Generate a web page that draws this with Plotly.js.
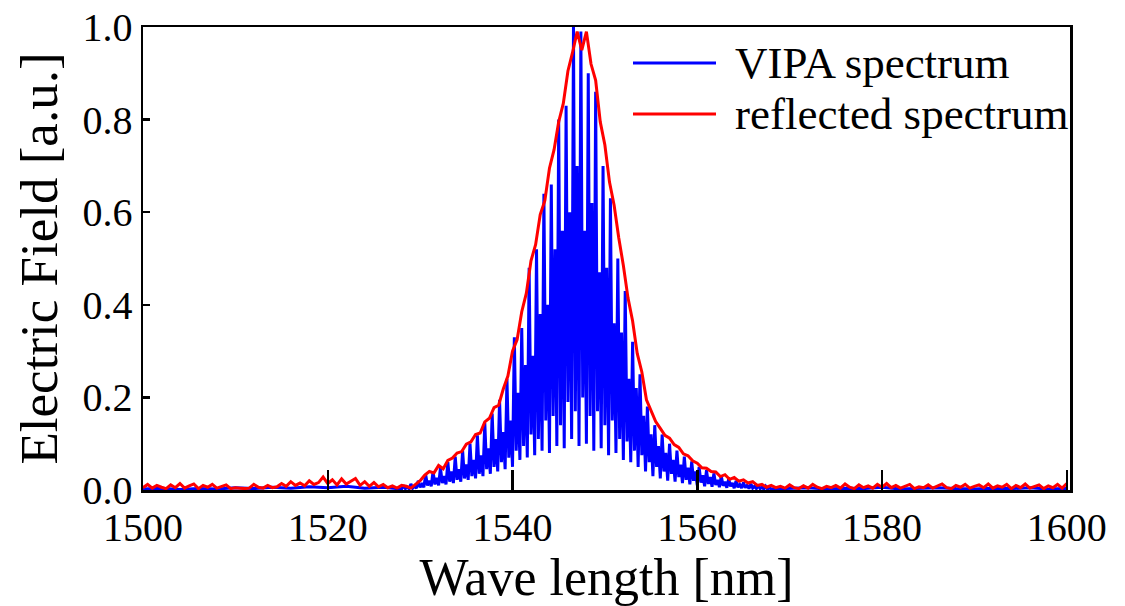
<!DOCTYPE html>
<html>
<head>
<meta charset="utf-8">
<script src="https://cdn.plot.ly/plotly-3.0.1.min.js"></script>
<style>html,body{margin:0;padding:0;background:#fff;}#chart{width:1125px;height:606px;}</style>
</head>
<body>
<div id="chart"></div>
<script>
// ---------------- DATA ----------------
const xTickVals = [1500, 1520, 1540, 1560, 1580, 1600];
const xTickText = ["1500", "1520", "1540", "1560", "1580", "1600"];
const yTickVals = [0.0, 0.2, 0.4, 0.6, 0.8, 1.0];
const yTickText = ["0.0", "0.2", "0.4", "0.6", "0.8", "1.0"];
const seriesNames = ["VIPA spectrum", "reflected spectrum"];

// reflected spectrum: sampled every 0.5 nm from 1500 nm
const redStart = 1500, redStep = 0.5;
const redY = [
  0.005,0.012,0.004,0.010,0.006,0.003,0.011,0.005,0.014,0.004,
  0.009,0.013,0.003,0.010,0.006,0.012,0.004,0.008,0.011,0.003,
  0.005,0.004,0.003,0.004,0.012,0.006,0.004,0.010,0.005,0.007,
  0.014,0.008,0.018,0.010,0.015,0.009,0.020,0.012,0.016,0.028,
  0.014,0.022,0.011,0.024,0.013,0.019,0.025,0.010,0.018,0.008,
  0.016,0.007,0.012,0.005,0.009,0.004,0.010,0.008,0.004,0.012,
  0.020,0.032,0.040,0.037,0.053,0.046,0.064,0.069,0.080,0.083,
  0.099,0.104,0.120,0.123,0.147,0.155,0.178,0.183,0.218,0.246,
  0.300,0.325,0.385,0.425,0.495,0.530,0.595,0.625,0.695,0.735,
  0.795,0.835,0.905,0.945,0.990,0.950,0.990,0.920,0.885,0.795,
  0.745,0.665,0.615,0.545,0.485,0.415,0.365,0.295,0.255,0.195,
  0.172,0.148,0.133,0.118,0.112,0.098,0.092,0.078,0.074,0.063,
  0.058,0.048,0.047,0.040,0.039,0.029,0.033,0.023,0.027,0.019,
  0.022,0.015,0.018,0.010,0.012,0.006,0.010,0.005,0.008,0.004,
  0.011,0.005,0.003,0.009,0.004,0.012,0.006,0.003,0.008,0.005,
  0.010,0.004,0.013,0.006,0.003,0.011,0.005,0.009,0.004,0.012,
  0.006,0.014,0.005,0.010,0.004,0.008,0.012,0.003,0.007,0.005,
  0.011,0.004,0.009,0.013,0.005,0.003,0.010,0.006,0.012,0.004,
  0.008,0.011,0.005,0.013,0.004,0.009,0.006,0.012,0.003,0.010,
  0.005,0.013,0.004,0.008,0.011,0.003,0.009,0.005,0.012,0.004,
  0.014
];

// VIPA spectrum, left baseline
const blueLeftX = [1500,1502,1504,1506,1508,1510,1512,1514,1516,1518,1520,1522,1524,1526];
const blueLeftY = [0.002,0.004,0.001,0.003,0.002,0.005,0.003,0.006,0.004,0.007,0.005,0.008,0.004,0.006];
// VIPA fringes: sampled every 0.2 nm from 1528.0 nm (trough, peak, trough, peak ...)
const fringeStart = 1528.0, fringeStep = 0.2;
const fringeY = [
  0.002,0.010,0.003,0.006,  0.003,0.013,0.004,0.008,  0.004,0.020,0.006,0.012,  0.006,0.033,0.010,0.020,
  0.008,0.040,0.012,0.026,  0.010,0.048,0.015,0.030,  0.012,0.060,0.018,0.040,  0.015,0.072,0.022,0.045,
  0.018,0.085,0.025,0.055,  0.022,0.100,0.030,0.065,  0.025,0.118,0.035,0.075,  0.030,0.145,0.045,0.090,
  0.035,0.165,0.050,0.110,  0.040,0.195,0.060,0.125,  0.045,0.240,0.070,0.150,  0.050,0.330,0.085,0.210,
  0.065,0.350,0.095,0.270,  0.070,0.480,0.120,0.290,  0.075,0.520,0.110,0.380,  0.085,0.640,0.150,0.400,
  0.080,0.660,0.160,0.520,  0.095,0.800,0.140,0.560,  0.090,0.830,0.190,0.600,  0.110,1.000,0.170,0.700,
  0.095,0.990,0.200,0.560,  0.100,0.900,0.160,0.620,  0.085,0.860,0.170,0.470,  0.090,0.700,0.140,0.480,
  0.075,0.630,0.150,0.360,  0.080,0.500,0.110,0.340,  0.065,0.430,0.105,0.240,  0.060,0.320,0.085,0.220,
  0.050,0.250,0.075,0.160,  0.040,0.180,0.060,0.120,  0.030,0.140,0.050,0.095,  0.025,0.120,0.040,0.080,
  0.020,0.100,0.035,0.065,  0.018,0.085,0.028,0.055,  0.015,0.072,0.022,0.048,  0.012,0.062,0.020,0.040,
  0.010,0.050,0.016,0.032,  0.008,0.043,0.013,0.028,  0.007,0.036,0.011,0.022,  0.006,0.030,0.009,0.018,
  0.005,0.024,0.008,0.015,  0.004,0.020,0.006,0.012,  0.004,0.016,0.005,0.010,  0.003,0.013,0.004,0.008,
  0.003,0.010,0.003,0.006,  0.002,0.008,0.002,0.005,
  0.002
];
// VIPA spectrum, right baseline
const blueRightX = [1570,1572,1574,1576,1578,1580,1582,1584,1586,1588,1590,1592,1594,1596,1598,1600];
const blueRightY = [0.003,0.005,0.002,0.004,0.003,0.006,0.002,0.004,0.005,0.003,0.002,0.004,0.003,0.005,0.002,0.003];

// ---------------- BUILD ----------------
const redX = redY.map((_, i) => redStart + redStep * i);
const fringeX = fringeY.map((_, i) => +(fringeStart + fringeStep * i).toFixed(3));
const blueX = blueLeftX.concat(fringeX, blueRightX);
const blueY = blueLeftY.concat(fringeY, blueRightY);
const FONT = "Liberation Serif, Times New Roman, serif";

const traces = [
  {x: blueX, y: blueY, type: "scatter", mode: "lines", name: seriesNames[0],
   line: {color: "#0000ff", width: 3}, showlegend: false},
  {x: redX, y: redY, type: "scatter", mode: "lines", name: seriesNames[1],
   line: {color: "#ff0000", width: 3}, showlegend: false}
];

const W = 927, H = 463, L = 143, T = 27;
const px = v => (v - L) / W;
const py = v => (T + H - v) / H;

const layout = {
  width: 1125, height: 606,
  margin: {l: L, r: 1125 - L - W, t: T, b: 606 - T - H, pad: 0},
  paper_bgcolor: "#fff", plot_bgcolor: "#fff",
  showlegend: false,
  font: {family: FONT, color: "#000"},
  xaxis: {
    range: [1500, 1600.35], tickvals: xTickVals, ticktext: xTickText,
    ticks: "inside", ticklen: 20, tickwidth: 2.5, tickcolor: "#000",
    showline: true, linewidth: 2.5, linecolor: "#000", mirror: true,
    showgrid: false, zeroline: false,
    tickfont: {family: FONT, size: 40, color: "#000"},
    title: {text: "Wave length [nm]", font: {family: FONT, size: 52, color: "#000"}, standoff: 4}
  },
  yaxis: {
    range: [0, 1], tickvals: yTickVals, ticktext: yTickText,
    ticks: "inside", ticklen: 7, tickwidth: 2.5, tickcolor: "#000",
    showline: true, linewidth: 2.5, linecolor: "#000", mirror: true,
    showgrid: false, zeroline: false,
    tickfont: {family: FONT, size: 40, color: "#000"},
    title: {text: "Electric Field [a.u.]", font: {family: FONT, size: 53, color: "#000"}, standoff: 8}
  },
  shapes: [
    {type: "line", xref: "paper", yref: "paper", x0: px(633), x1: px(716), y0: py(63), y1: py(63),
     line: {color: "#0000ff", width: 3}},
    {type: "line", xref: "paper", yref: "paper", x0: px(633), x1: px(716), y0: py(114), y1: py(114),
     line: {color: "#ff0000", width: 3}}
  ],
  annotations: [
    {xref: "paper", yref: "paper", x: px(733), y: py(63), xanchor: "left", yanchor: "middle",
     text: seriesNames[0], showarrow: false, font: {family: FONT, size: 45, color: "#000"}},
    {xref: "paper", yref: "paper", x: px(733), y: py(114), xanchor: "left", yanchor: "middle",
     text: seriesNames[1], showarrow: false, font: {family: FONT, size: 45, color: "#000"}}
  ]
};

Plotly.newPlot("chart", traces, layout, {displayModeBar: false, staticPlot: true});
</script>
</body>
</html>
